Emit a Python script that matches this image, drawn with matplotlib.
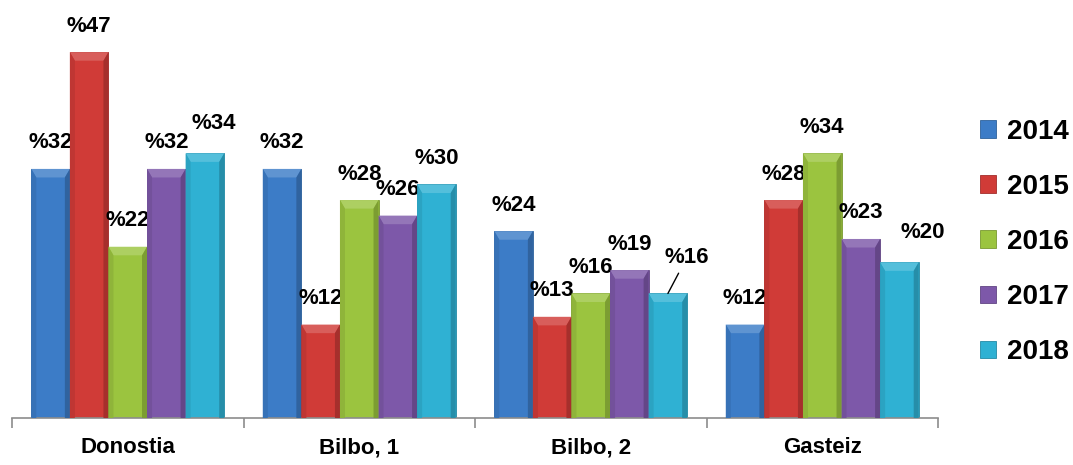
import numpy as np
import matplotlib.pyplot as plt
from matplotlib.patches import Polygon
from matplotlib.colors import to_rgb

plt.rcParams['font.family'] = ['Liberation Sans', 'DejaVu Sans']
plt.rcParams['font.weight'] = 'bold'

# data
categories = ['Donostia', 'Bilbo, 1', 'Bilbo, 2', 'Gasteiz']
years = ['2014', '2015', '2016', '2017', '2018']
values = {
    '2014': [32, 32, 24, 12],
    '2015': [47, 12, 13, 28],
    '2016': [22, 28, 16, 34],
    '2017': [32, 26, 19, 23],
    '2018': [34, 30, 16, 20],
}

colors = ['#3C7CC7', '#D03B37', '#9BC43F', '#7D58A9', '#2FB1D3']

# label nudges in pixels (year index, category index) -> (dx, dy above top)
nudges = {(4, 0): (9, 30), (4, 2): (19, 36), (4, 3): (23, 30)}


def shade(c, f):
    r, g, b = to_rgb(c)
    if f < 1:
        return (r * f, g * f, b * f)
    return (r + (1 - r) * (f - 1), g + (1 - g) * (f - 1), b + (1 - b) * (f - 1))


fig = plt.figure(figsize=(10.73, 4.65), dpi=100)
ax = fig.add_axes([12 / 1073, 1 - 418 / 465, (938 - 12) / 1073, 418 / 465])

x = np.arange(len(categories))
width = 1 / 6
handles = []
for i, yr in enumerate(years):
    col = colors[i]
    bars = ax.bar(x + (i - 2) * width, values[yr], width, color=col,
                  edgecolor=shade(col, 0.78), linewidth=0.6, label=yr, zorder=2)
    handles.append(bars)
    for j, b in enumerate(bars):
        x0, w, h = b.get_x(), b.get_width(), b.get_height()
        dx, dy = w * 0.13, 1.1
        # bevel: lighter top, darker sides
        ax.add_patch(Polygon([(x0, h), (x0 + w, h), (x0 + w - dx, h - dy), (x0 + dx, h - dy)],
                             closed=True, facecolor=shade(col, 1.18), edgecolor='none', zorder=3))
        ax.add_patch(Polygon([(x0, 0), (x0 + dx, 0), (x0 + dx, h - dy), (x0, h)],
                             closed=True, facecolor=shade(col, 0.92), edgecolor='none', zorder=3))
        ax.add_patch(Polygon([(x0 + w - dx, 0), (x0 + w, 0), (x0 + w, h), (x0 + w - dx, h - dy)],
                             closed=True, facecolor=shade(col, 0.8), edgecolor='none', zorder=3))
        ndx, ndy = nudges.get((i, j), (0, 26))
        kw = {}
        if (i, j) == (4, 2):
            kw['arrowprops'] = dict(arrowstyle='-', color='black', lw=1, shrinkA=2, shrinkB=0)
        ax.annotate(f'%{values[yr][j]}', (x0 + w / 2, h),
                    xytext=(ndx * 0.72, ndy * 0.72), textcoords='offset points',
                    ha='center', va='center', fontsize=16, fontweight='bold', **kw)

ax.set_xlim(-0.5, 3.5)
ax.set_ylim(0, 53.7)
for s in ['top', 'right', 'left']:
    ax.spines[s].set_visible(False)
ax.spines['bottom'].set_color('#8c8c8c')
ax.spines['bottom'].set_linewidth(1.2)
ax.set_yticks([])
ax.set_xticks(x)
ax.set_xticklabels(categories, fontsize=16, fontweight='bold')
ax.tick_params(axis='x', which='major', length=0, pad=14)
ax.set_xticks(np.arange(-0.5, 4, 1), minor=True)
ax.tick_params(axis='x', which='minor', length=7, color='#8c8c8c', width=1.2)

fig.legend(handles=handles, labels=years, loc='center left',
           bbox_to_anchor=(0.913, 1 - 242 / 465), frameon=False,
           prop={'weight': 'bold', 'size': 20}, labelspacing=1.05,
           handlelength=0.6, handleheight=0.6, handletextpad=0.4,
           borderpad=0, borderaxespad=0)

fig.savefig('out.png', dpi=100)
